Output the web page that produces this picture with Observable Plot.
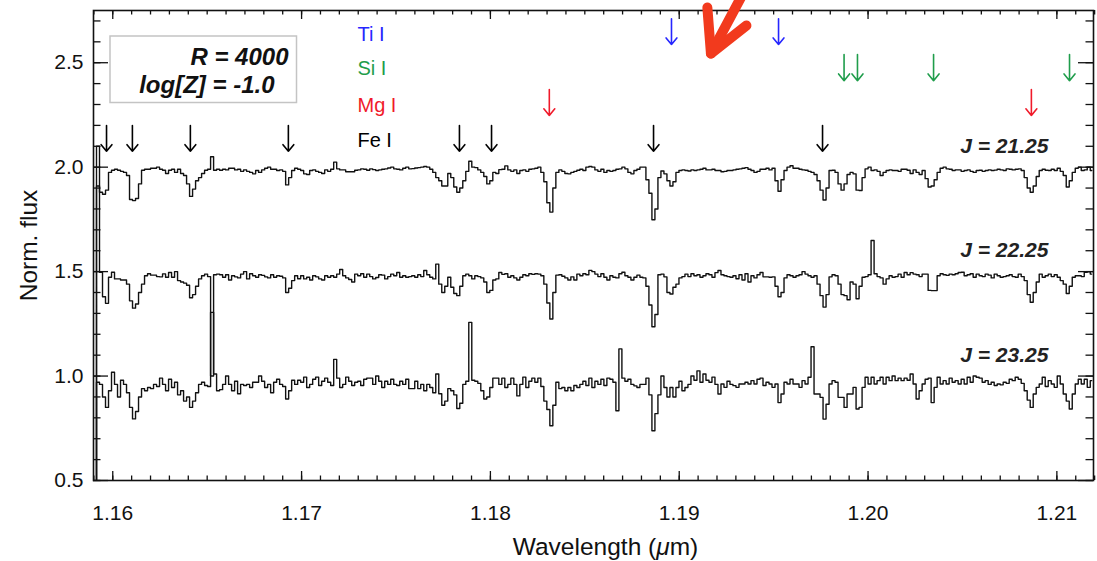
<!DOCTYPE html>
<html>
<head>
<meta charset="utf-8">
<script src="https://cdn.jsdelivr.net/npm/d3@7"></script>
<script src="https://cdn.jsdelivr.net/npm/@observablehq/plot@0.6"></script>
<style>
  html, body { margin: 0; padding: 0; background: #fff; overflow: hidden; }
  #chart { width: 1097px; height: 561px; }
</style>
</head>
<body>
<div id="chart"></div>
<script>
// ---- wavelength grid of the spectra (bin start and bin width, micron) ----
const waveStart = 1.15898;
const waveStep = 0.000159;

// ---- normalised flux, J = 21.25 (plotted around 2.0) ----
const fluxJ2125 = [
  0.40, 2.10, 1.88, 1.87, 1.89, 1.975, 1.985, 1.99, 1.985, 1.98,
  1.975, 1.96, 1.845, 1.84, 1.85, 1.92, 1.985, 1.99, 1.99, 1.995,
  1.995, 2.00, 1.99, 1.985, 1.97, 1.985, 1.99, 1.975, 1.99, 1.97,
  1.96, 1.92, 1.86, 1.895, 1.935, 1.95, 1.97, 1.985, 1.99, 2.05,
  1.985, 1.99, 1.985, 1.99, 1.987, 1.995, 1.995, 1.987, 1.99, 1.98,
  1.987, 1.98, 1.975, 1.968, 1.984, 1.975, 1.987, 1.995, 2.00, 1.99,
  1.99, 1.984, 1.987, 1.98, 1.915, 1.95, 1.984, 1.995,
  1.99, 1.984, 1.968, 1.965, 1.984, 1.987, 1.98, 1.975, 1.97, 1.987,
  1.98, 1.99, 2.024, 1.992, 1.987, 1.987, 1.978, 1.978, 1.978, 1.985,
  1.987, 1.992, 1.99, 1.985, 1.992, 1.988, 1.984, 1.987, 1.99, 1.992,
  1.996, 2.00, 1.992, 1.99, 1.987, 1.995, 2.00, 1.992, 1.993, 1.996,
  1.998, 2.00, 2.003, 2.00, 1.99, 1.975, 1.95, 1.935, 1.91, 1.91,
  1.97, 1.95, 1.905, 1.88, 1.90, 1.935, 1.98, 2.028, 2.00, 1.998,
  1.987, 1.975, 1.955, 1.92, 1.935, 1.975,
  1.97, 1.988, 1.99, 2.006, 1.987, 1.98, 1.987, 1.97, 1.984, 1.987,
  1.98, 1.99, 1.992, 1.995, 2.00, 1.975, 1.93, 1.83, 1.785, 1.90,
  1.975, 1.987, 1.98, 1.97, 1.968, 1.975, 1.98, 1.985, 1.99, 1.984,
  2.00, 2.003, 2.00, 1.987, 1.98, 1.99, 1.975, 1.984, 1.98, 1.984,
  1.99, 1.992, 2.00, 1.992, 1.975, 1.968, 1.984, 1.99, 2.00, 2.00,
  1.94, 1.875, 1.748, 1.80, 1.95, 1.982, 1.968, 1.935, 1.91, 1.93,
  1.975, 1.984, 1.987, 1.984, 1.982, 1.987,
  1.984, 1.987, 1.99, 1.995, 1.987, 1.987, 1.99, 1.984, 1.984, 1.978,
  1.98, 1.984, 1.984, 1.987, 1.99, 1.992, 1.995, 1.998, 1.99, 1.984,
  1.975, 1.98, 1.99, 1.99, 1.995, 1.987, 1.995, 1.935, 1.885, 1.94,
  1.984, 2.00, 2.007, 1.995, 1.995, 1.99, 1.987, 1.985, 1.98, 1.975,
  1.965, 1.935, 1.89, 1.843, 1.90, 1.984, 1.985, 1.975, 1.92, 1.89,
  1.92, 1.965, 1.975, 1.968, 1.89, 1.888, 1.95, 1.992, 2.00, 1.984,
  1.987, 1.98, 1.96, 1.975, 1.984, 1.987, 1.984,
  1.984, 1.98, 1.99, 1.99, 1.985, 1.97, 1.987, 1.975, 1.965, 1.984,
  1.945, 1.905, 1.91, 1.94, 1.975, 1.995, 2.00, 1.992, 1.99, 1.984,
  1.987, 1.987, 1.98, 1.984, 1.987, 1.98, 1.975, 1.984, 1.985, 1.98,
  1.984, 1.987, 1.984, 1.986, 1.99, 1.987, 1.984, 1.992, 1.99, 1.987,
  1.99, 1.992, 1.984, 1.95, 1.90, 1.88, 1.91, 1.955, 1.984, 1.99,
  1.985, 1.984, 1.99, 1.984, 1.995, 1.98, 1.96, 1.905, 1.935, 1.975,
  1.995, 2.00, 1.984, 1.987, 2.00, 1.984
];

// ---- normalised flux, J = 22.25 (plotted around 1.5) ----
const fluxJ2225 = [
  0.40, 1.91, 1.497, 1.38, 1.348, 1.473, 1.497, 1.465, 1.465, 1.46,
  1.46, 1.44, 1.36, 1.325, 1.345, 1.40, 1.44, 1.48, 1.49, 1.483,
  1.483, 1.476, 1.475, 1.489, 1.473, 1.496, 1.473, 1.50, 1.457, 1.45,
  1.445, 1.435, 1.375, 1.39, 1.43, 1.465, 1.48, 1.488, 1.476, 1.00,
  1.485, 1.488, 1.485, 1.473, 1.485, 1.46, 1.48, 1.475, 1.47, 1.488,
  1.50, 1.465, 1.49, 1.48, 1.473, 1.485, 1.482, 1.475, 1.47, 1.485,
  1.473, 1.48, 1.478, 1.47, 1.40, 1.42, 1.457, 1.48,
  1.466, 1.48, 1.465, 1.473, 1.46, 1.48, 1.475, 1.465, 1.46, 1.48,
  1.473, 1.48, 1.473, 1.488, 1.51, 1.48, 1.47, 1.462, 1.45, 1.488,
  1.48, 1.49, 1.473, 1.488, 1.476, 1.465, 1.472, 1.485, 1.483, 1.465,
  1.476, 1.488, 1.48, 1.496, 1.473, 1.48, 1.473, 1.476, 1.48, 1.473,
  1.485, 1.476, 1.505, 1.485, 1.473, 1.465, 1.536, 1.44, 1.40, 1.43,
  1.473, 1.425, 1.395, 1.385, 1.43, 1.48, 1.488, 1.48, 1.465, 1.48,
  1.476, 1.47, 1.45, 1.40, 1.41, 1.46,
  1.465, 1.496, 1.487, 1.49, 1.473, 1.48, 1.47, 1.46, 1.473, 1.485,
  1.48, 1.49, 1.487, 1.49, 1.488, 1.48, 1.44, 1.35, 1.273, 1.40,
  1.483, 1.485, 1.478, 1.47, 1.46, 1.475, 1.46, 1.488, 1.48, 1.49,
  1.485, 1.506, 1.50, 1.488, 1.476, 1.49, 1.473, 1.46, 1.48, 1.473,
  1.47, 1.49, 1.497, 1.48, 1.473, 1.46, 1.473, 1.483, 1.473, 1.47,
  1.43, 1.34, 1.236, 1.295, 1.485, 1.488, 1.475, 1.40, 1.393, 1.425,
  1.44, 1.47, 1.476, 1.488, 1.476, 1.49,
  1.48, 1.485, 1.473, 1.48, 1.49, 1.485, 1.473, 1.495, 1.505, 1.485,
  1.48, 1.476, 1.473, 1.48, 1.466, 1.485, 1.46, 1.49, 1.45, 1.48,
  1.47, 1.485, 1.496, 1.475, 1.475, 1.473, 1.475, 1.43, 1.38, 1.40,
  1.47, 1.485, 1.48, 1.473, 1.48, 1.485, 1.50, 1.488, 1.48, 1.473,
  1.48, 1.44, 1.385, 1.33, 1.39, 1.475, 1.485, 1.48, 1.44, 1.39,
  1.385, 1.365, 1.45, 1.44, 1.37, 1.43, 1.473, 1.476, 1.485, 1.649,
  1.49, 1.476, 1.47, 1.44, 1.465, 1.48, 1.473,
  1.476, 1.488, 1.473, 1.496, 1.485, 1.495, 1.488, 1.485, 1.476, 1.488,
  1.488, 1.41, 1.409, 1.409, 1.48, 1.49, 1.485, 1.482, 1.488, 1.485,
  1.49, 1.496, 1.497, 1.48, 1.485, 1.49, 1.473, 1.488, 1.48, 1.476,
  1.488, 1.483, 1.47, 1.488, 1.48, 1.473, 1.476, 1.48, 1.485, 1.476,
  1.473, 1.488, 1.476, 1.457, 1.39, 1.353, 1.40, 1.45, 1.488, 1.473,
  1.48, 1.488, 1.476, 1.485, 1.473, 1.457, 1.44, 1.395, 1.43, 1.473,
  1.48, 1.48, 1.476, 1.497, 1.50, 1.488
];

// ---- normalised flux, J = 23.25 (plotted around 1.0) ----
const fluxJ2325 = [
  0.40, 0.97, 0.96, 0.90, 0.85, 0.93, 1.018, 0.96, 0.90, 0.98,
  0.96, 0.92, 0.85, 0.795, 0.83, 0.90, 0.94, 0.93, 0.945, 0.94,
  0.96, 0.95, 0.99, 0.96, 0.93, 0.985, 0.945, 0.97, 0.91, 0.93,
  0.88, 0.90, 0.85, 0.88, 0.92, 0.96, 0.97, 0.955, 0.95, 1.305,
  1.01, 0.93, 0.935, 0.96, 1.00, 0.96, 0.93, 0.975, 0.915, 0.96,
  0.955, 0.96, 0.945, 0.97, 0.97, 1.00, 0.975, 0.945, 0.96, 0.92,
  0.97, 0.985, 0.96, 0.95, 0.89, 0.93, 0.98, 0.96,
  0.98, 0.97, 0.995, 0.945, 0.96, 0.985, 0.995, 0.955, 0.975, 0.99,
  0.97, 0.955, 1.08, 0.99, 0.945, 0.96, 0.995, 0.975, 0.955, 0.97,
  0.975, 0.955, 0.985, 0.99, 0.99, 0.96, 1.00, 0.975, 0.945, 0.975,
  0.96, 0.985, 0.96, 0.955, 0.975, 0.96, 0.985, 0.94, 0.94, 0.975,
  0.94, 0.96, 0.93, 0.96, 0.945, 0.92, 1.01, 0.915, 0.86, 0.88,
  0.94, 0.93, 0.91, 0.845, 0.87, 0.96, 0.975, 1.257, 0.98, 0.975,
  0.965, 0.93, 0.89, 0.90, 0.945, 0.99,
  0.99, 0.96, 0.99, 0.945, 0.96, 0.99, 0.96, 0.905, 0.96, 0.995,
  0.945, 0.975, 0.99, 0.97, 0.99, 0.95, 0.88, 0.84, 0.762, 0.86,
  0.97, 0.94, 0.945, 0.93, 0.945, 0.93, 0.955, 0.945, 0.96, 0.975,
  0.955, 0.99, 0.945, 0.975, 0.96, 0.985, 0.955, 0.99, 0.985, 0.97,
  0.834, 1.13, 0.99, 0.975, 0.985, 0.96, 0.953, 0.945, 0.96, 0.96,
  0.99, 0.91, 0.738, 0.82, 0.91, 1.00, 0.945, 0.90, 0.945, 0.90,
  0.945, 0.975, 0.93, 0.945, 0.96, 1.00,
  0.98, 1.025, 0.97, 1.01, 0.98, 0.97, 0.995, 0.96, 0.914, 0.962,
  0.946, 0.975, 0.96, 0.954, 0.946, 0.962, 0.962, 0.97, 0.962, 0.978,
  0.962, 0.985, 0.99, 0.955, 0.97, 0.962, 0.946, 0.962, 0.873, 0.914,
  0.97, 0.962, 0.985, 0.962, 0.962, 0.946, 0.978, 0.962, 0.994, 1.14,
  0.914, 0.914, 0.898, 0.794, 0.865, 0.962, 0.978, 0.97, 0.898, 0.898,
  0.85, 0.914, 0.914, 0.946, 0.842, 0.85, 0.946, 0.994, 0.962, 0.994,
  0.962, 0.978, 0.994, 0.962, 0.994, 0.978, 1.00,
  0.978, 0.99, 0.978, 0.99, 0.98, 1.01, 0.962, 0.89, 0.93, 0.962,
  0.985, 0.99, 0.873, 0.946, 0.994, 0.962, 0.978, 0.962, 0.99, 0.97,
  0.978, 0.962, 0.985, 0.962, 0.994, 0.97, 1.00, 0.994, 0.99, 0.97,
  0.978, 0.96, 0.97, 0.955, 0.962, 0.958, 0.97, 0.965, 0.985, 0.978,
  0.994, 0.985, 0.965, 0.93, 0.885, 0.85, 0.914, 0.946, 0.962, 0.994,
  0.95, 0.978, 0.962, 0.946, 1.00, 0.962, 0.914, 0.88, 0.842, 0.914,
  0.962, 0.985, 0.962, 0.985, 0.946, 0.978
];

// ---- series labels and where they sit ----
const seriesNames = ["J = 21.25", "J = 22.25", "J = 23.25"];
const seriesLabelWave = 1.20955;
const seriesLabelFlux = [2.069, 1.569, 1.066];

// ---- line identifications ----
const speciesNames = ["Ti I", "Si I", "Mg I", "Fe I"];
const speciesColors = ["#2626ff", "#1f9d4b", "#f01a2a", "#000000"];
const speciesLabelWave = 1.17296;
const speciesLabelFlux = [2.606, 2.439, 2.266, 2.096];
const arrowTopFlux = [2.710, 2.539, 2.372, 2.199];
const arrowTipFlux = [2.587, 2.414, 2.247, 2.076];
const lineWaves = [
  [1.18959, 1.19526],                                                        // Ti I
  [1.19873, 1.19944, 1.20347, 1.21067],                                      // Si I
  [1.18312, 1.20865],                                                        // Mg I
  [1.15967, 1.16104, 1.16411, 1.16930, 1.17836, 1.18006, 1.18864, 1.19759]   // Fe I
];

// ---- axis ticks ----
const xTickLabels = [1.16, 1.17, 1.18, 1.19, 1.20, 1.21];
const yTickLabels = [0.5, 1.0, 1.5, 2.0, 2.5];
const xMinorTicks = d3.range(1159, 1213).map(d => d / 1000);
const yMinorTicks = d3.range(5, 28).map(d => d / 10);

// ---- red pointer annotation (data coordinates) ----
const pointerHeadWave = [1.19149, 1.19168, 1.19356];
const pointerHeadFlux = [2.764, 2.544, 2.678];
const pointerShaftWave = [1.19168, 1.19361];
const pointerShaftFlux = [2.544, 2.870];

// ---- tidy tables built from the arrays ----
const spectra = [fluxJ2125, fluxJ2225, fluxJ2325];
const specRows = spectra.flatMap((arr, s) =>
  arr.map((f, i) => ({w: waveStart + (i + 0.5) * waveStep, f, s: seriesNames[s]})));
const arrowRows = lineWaves.flatMap((ws, k) =>
  ws.map(w => ({w, y1: arrowTopFlux[k], y2: arrowTipFlux[k], c: speciesColors[k]})));
const speciesRows = speciesNames.map((n, k) => ({n, y: speciesLabelFlux[k], c: speciesColors[k]}));
const seriesLabelRows = seriesNames.map((n, k) => ({n, y: seriesLabelFlux[k]}));
const pointerRows = [
  ...pointerHeadWave.map((w, i) => ({w, f: pointerHeadFlux[i], g: "head"})),
  ...pointerShaftWave.map((w, i) => ({w, f: pointerShaftFlux[i], g: "shaft"}))
];

const W = 1000, H = 470;
const xTitle = "Wavelength (μm)";
const font = "'Liberation Sans', Arial, Helvetica, sans-serif";

const chart = Plot.plot({
  width: 1097,
  height: 561,
  marginLeft: 93,
  marginRight: 4,
  marginTop: 10,
  marginBottom: 81,
  x: {domain: [1.15898, 1.21194], axis: null},
  y: {domain: [0.5, 2.75], axis: null},
  style: {fontFamily: font, background: "white", color: "black", overflow: "visible"},
  marks: [
    // spectra
    Plot.line(specRows, {x: "w", y: "f", z: "s", curve: "step", stroke: "#111", strokeWidth: 1.4, clip: true}),
    // ticks: bottom / top
    Plot.tickX(xMinorTicks, {x: d => d, insetTop: H - 4.5, stroke: "#111", strokeWidth: 1.3}),
    Plot.tickX(xMinorTicks, {x: d => d, insetBottom: H - 4.5, stroke: "#111", strokeWidth: 1.3}),
    Plot.tickX(xTickLabels, {x: d => d, insetTop: H - 9, stroke: "#111", strokeWidth: 1.3}),
    Plot.tickX(xTickLabels, {x: d => d, insetBottom: H - 9, stroke: "#111", strokeWidth: 1.3}),
    // ticks: left / right
    Plot.tickY(yMinorTicks, {y: d => d, insetRight: W - 7.5, stroke: "#111", strokeWidth: 1.3}),
    Plot.tickY(yMinorTicks, {y: d => d, insetLeft: W - 7.5, stroke: "#111", strokeWidth: 1.3}),
    Plot.tickY(yTickLabels, {y: d => d, insetRight: W - 15, stroke: "#111", strokeWidth: 1.3}),
    Plot.tickY(yTickLabels, {y: d => d, insetLeft: W - 15, stroke: "#111", strokeWidth: 1.3}),
    Plot.frame({stroke: "#111", strokeWidth: 1.6}),
    // tick labels
    Plot.text(xTickLabels, {x: d => d, text: d => d.toFixed(2), frameAnchor: "bottom", dy: 33,
      lineAnchor: "middle", fontSize: 21, fill: "#111"}),
    Plot.text(yTickLabels, {y: d => d, text: d => d.toFixed(1), frameAnchor: "left", dx: -10,
      textAnchor: "end", lineAnchor: "middle", fontSize: 21, fill: "#111"}),
    // axis titles
    Plot.text([xTitle], {frameAnchor: "bottom", dx: 12, dy: 74, lineAnchor: "bottom",
      textAnchor: "middle", fontSize: 24.5, fill: "#111"}),
    Plot.text(["Norm. flux"], {frameAnchor: "left", dx: -57, rotate: -90, lineAnchor: "bottom",
      textAnchor: "middle", fontSize: 24.5, fill: "#111"}),
    // line identification arrows and labels
    Plot.arrow(arrowRows, {x1: "w", x2: "w", y1: "y1", y2: "y2", stroke: "c",
      strokeWidth: 1.6, headLength: 11, headAngle: 78}),
    Plot.text(speciesRows, {x: () => speciesLabelWave, y: "y", text: "n", fill: "c",
      textAnchor: "start", lineAnchor: "bottom", fontSize: 20}),
    // series labels
    Plot.text(seriesLabelRows, {x: () => seriesLabelWave, y: "y", text: "n", textAnchor: "end",
      lineAnchor: "bottom", fontSize: 21, fontWeight: "bold", fontStyle: "italic", fill: "#222"}),
    // model parameters
    Plot.text(["R = 4000"], {frameAnchor: "top-left", dx: 195, dy: 54, textAnchor: "end",
      lineAnchor: "bottom", fontSize: 24, fontWeight: "bold", fontStyle: "italic", fill: "#111"}),
    Plot.text(["log[Z] = -1.0"], {frameAnchor: "top-left", dx: 181, dy: 82, textAnchor: "end",
      lineAnchor: "bottom", fontSize: 24, fontWeight: "bold", fontStyle: "italic", fill: "#111"}),
    // red pointer
    Plot.line(pointerRows, {x: "w", y: "f", z: "g", stroke: "#f23a1d", strokeWidth: 10,
      strokeLinecap: "round", strokeLinejoin: "round", clip: false})
  ]
});

document.getElementById("chart").appendChild(chart);

// italic mu in the x title
d3.select(chart).selectAll("text")
  .filter(function () { return this.textContent === xTitle; })
  .each(function () {
    const t = d3.select(this);
    t.text(null);
    t.append("tspan").text("Wavelength (");
    t.append("tspan").attr("font-style", "italic").text("μ");
    t.append("tspan").text("m)");
  });

// box around the model parameters
const paramBox = {left: 110, top: 36, width: 186.5, height: 66.5};
d3.select(chart).append("rect")
  .attr("x", paramBox.left).attr("y", paramBox.top)
  .attr("width", paramBox.width).attr("height", paramBox.height)
  .attr("fill", "none").attr("stroke", "#c4c4c4").attr("stroke-width", 1.5);
</script>
</body>
</html>
